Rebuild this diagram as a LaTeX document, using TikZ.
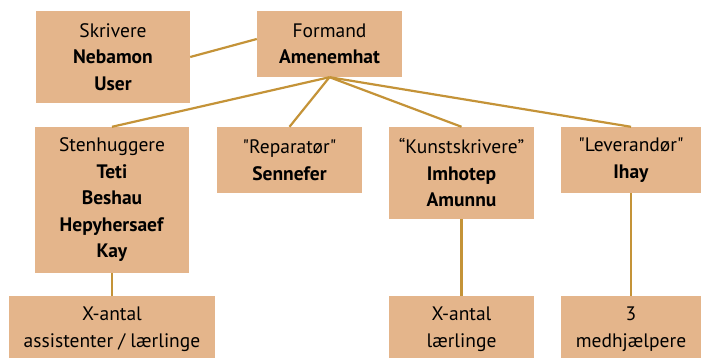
\documentclass[tikz,border=0pt]{standalone}
\usepackage{fontspec}
\setmainfont{PT Sans}
\usetikzlibrary{positioning}
\definecolor{boxfill}{RGB}{228,181,139}
\definecolor{linegold}{RGB}{196,147,56}

\begin{document}
\begin{tikzpicture}[
				x=1pt,y=-1pt,
				role/.style={
					fill=boxfill,
					align=center,
					inner sep=0pt,
					font=\fontsize{19.5}{26.5}\selectfont
				},
				link/.style={
					draw=linegold,
					line width=2.2pt
				}
			]
			\useasboundingbox (0,0) rectangle (701,358);
			\node[role,minimum width=154pt,minimum height=92pt] at (113,57)
			(skr) {Skrivere\\\textbf{Nebamon}\\\textbf{User}};
			\node[role,minimum width=145pt,minimum height=66pt] at (329.5,44)
			(formand) {Formand\\\textbf{Amenemhat}};
			\node[role,minimum width=154pt,minimum height=146pt] at (112,200)
			(sten) {Stenhuggere\\\textbf{Teti}\\\textbf{Beshau}\\\textbf{Hepyhersaef}\\\textbf{Kay}};
			\node[role,minimum width=145pt,minimum height=66pt] at (289.5,160)
			(rep) {\textquotedbl Reparatør\textquotedbl\\\textbf{Sennefer}};
			\node[role,minimum width=145pt,minimum height=92pt] at (461.5,173)
			(kunst) {“Kunstskrivere”\\\textbf{Imhotep}\\\textbf{Amunnu}};
			\node[role,minimum width=140pt,minimum height=66pt] at (631,160)
			(lev) {\textquotedbl Leverandør\textquotedbl\\\textbf{Ihay}};
			\node[role,minimum width=206pt,minimum height=66pt] at (112,329)
			(assist) {X-antal\\assistenter / lærlinge};
			\node[role,minimum width=145pt,minimum height=66pt] at (461.5,329)
			(laer) {X-antal\\lærlinge};
			\node[role,minimum width=140pt,minimum height=66pt] at (631,329)
			(hjaelp) {3\\medhjælpere};
																																			
			\draw[link] (skr.east) -- ([yshift=5pt]formand.west);
			\draw[link] (formand.south) -- (sten.north);
			\draw[link] (formand.south) -- (rep.north);
			\draw[link] (formand.south) -- (kunst.north);
			\draw[link] (formand.south) -- (lev.north);
			\draw[link] (sten.south) -- (assist.north);
			\draw[link] (kunst.south) -- (laer.north);
			\draw[link] (lev.south) -- (hjaelp.north);
		\end{tikzpicture}
\end{document}
